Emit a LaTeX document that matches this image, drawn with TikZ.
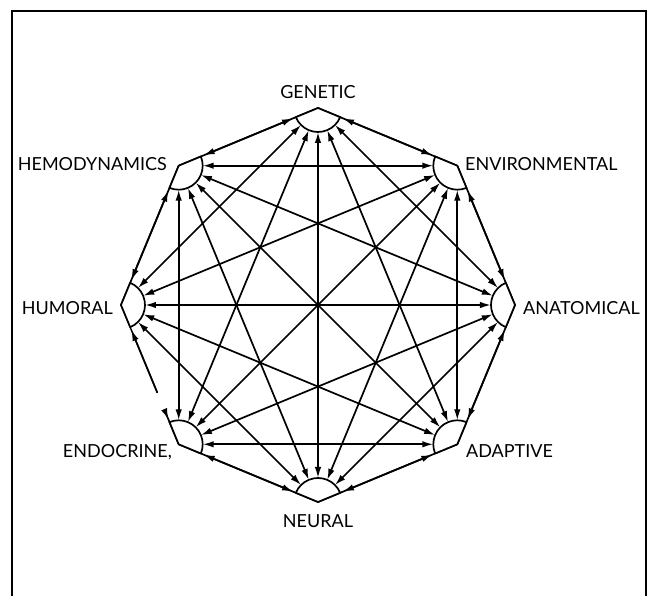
\documentclass[tikz,border=0pt]{standalone}
\usepackage{fontspec}
\setmainfont{Lato}
\usetikzlibrary{arrows.meta,calc}
\begin{document}
\begin{tikzpicture}[x=1pt,y=1pt,
  conn/.style={line width=1.7pt, {Latex[length=11pt,width=6.5pt]}-{Latex[length=11pt,width=6.5pt]}, shorten <=24pt, shorten >=24pt},
  rim/.style={line width=1.7pt},
  rimarrow/.style={line width=1.7pt, {Latex[length=11pt,width=6.5pt]}-{Latex[length=11pt,width=6.5pt]}, shorten <=27pt, shorten >=27pt},
  hub/.style={line width=1.7pt, fill=white, line join=round},
  lbl/.style={font=\fontsize{18}{18}\selectfont, inner sep=0pt}]
\useasboundingbox (-318,-291) rectangle (336,305);
\draw[line width=2pt] (-305.5,-291) -- (-305.5,294) -- (328,294) -- (328,-291);
\foreach \i/\a in {0/90,1/45,2/0,3/-45,4/-90,5/-135,6/180,7/135}
  \coordinate (V\i) at (\a:197);
% rim edges (adjacent hubs)
\foreach \i/\j in {0/1,1/2,2/3,3/4,4/5,6/7,7/0} {
  \draw[rim] (V\i) -- (V\j);
  \draw[rimarrow] (V\i) -- (V\j);
}
% broken rim edge humoral - endocrine
\coordinate (B1) at ($(V6)!0.63!(V5)$);
\coordinate (B2) at ($(V6)!0.76!(V5)$);
\draw[line width=1.4pt] (V6) -- (B1);
\draw[line width=1.7pt, {Latex[length=11pt,width=6.5pt]}-, shorten <=27pt] (V6) -- (B1);
\draw[rim] (B2) -- (V5);
\draw[line width=1.7pt, -{Latex[length=11pt,width=6.5pt]}, shorten >=27pt] (B2) -- (V5);
% chords
\foreach \i/\j in {0/2,0/3,0/4,0/5,0/6,1/3,1/4,1/5,1/6,1/7,2/4,2/5,2/6,2/7,3/5,3/6,3/7,4/6,4/7,5/7}
  \draw[conn] (V\i) -- (V\j);
% hubs
\foreach \i/\a in {0/90,1/45,2/0,3/-45,4/-90,5/-135,6/180,7/135}
  \draw[hub] (V\i) -- ++({\a+112.5}:24) arc[start angle={\a+112.5}, end angle={\a+247.5}, radius=24] -- cycle;
% labels
\node[lbl] (gen) at (0,213) {GENETIC};
\node[lbl, anchor=east] (hem) at (-151,141) {HEMODYNAMICS};
\node[lbl, anchor=west] (env) at (147,141) {ENVIRONMENTAL};
\node[lbl, anchor=east] (hum) at (-205,-3) {HUMORAL};
\node[lbl, anchor=west] (ana) at (205,-3) {ANATOMICAL};
\node[lbl, anchor=east] (endo) at (-146,-147) {ENDOCRINE,};
\node[lbl, anchor=west] (ada) at (148,-146) {ADAPTIVE};
\node[lbl] (neu) at (0,-216) {NEURAL};
\end{tikzpicture}
\end{document}
